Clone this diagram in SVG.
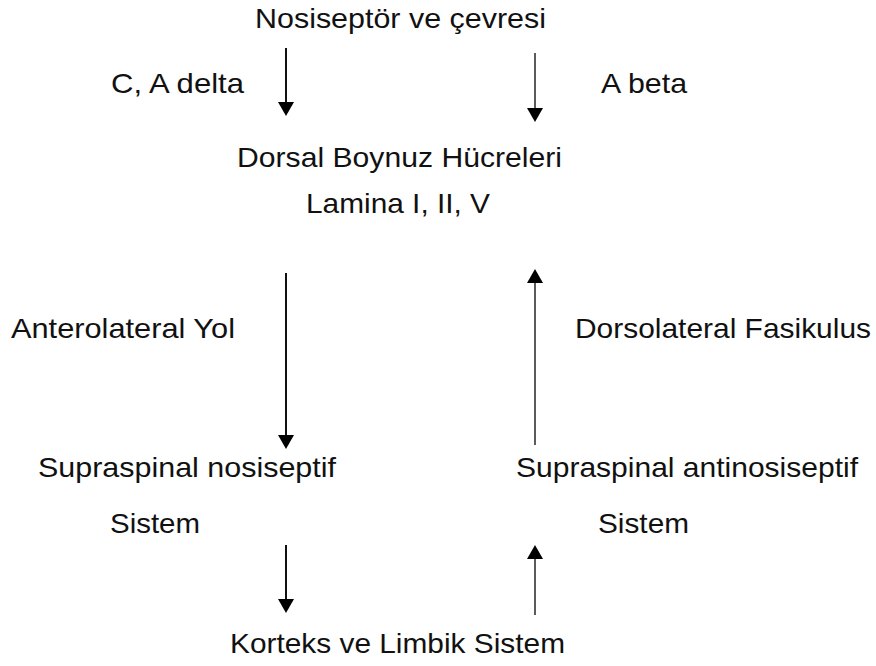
<svg xmlns="http://www.w3.org/2000/svg" width="876" height="666" viewBox="0 0 876 666">
  <style>
    text { font-family: "Liberation Sans", Arial, Helvetica, sans-serif; font-size: 28px; fill: #111; }
    .c { stroke: #111; stroke-width: 2; fill: none; }
    .g { stroke: #333; stroke-width: 1.6; fill: none; }
  </style>
  <defs>
    <marker id="ah" viewBox="0 0 14 16" refX="6" refY="8" markerWidth="14" markerHeight="16" markerUnits="userSpaceOnUse" orient="auto">
      <path d="M0,0 L14,8 L0,16 Z" fill="#000"/>
    </marker>
  </defs>
  <rect width="876" height="666" fill="#fff"/>

  <g id="n-nosiseptor"><text x="255" y="28" textLength="291" lengthAdjust="spacingAndGlyphs">Nosiseptör ve çevresi</text></g>
  <g id="n-cadelta"><text x="111" y="93" textLength="133" lengthAdjust="spacingAndGlyphs">C, A delta</text></g>
  <g id="n-abeta"><text x="601" y="93" textLength="86" lengthAdjust="spacingAndGlyphs">A beta</text></g>
  <g id="n-dorsal">
    <text x="237" y="167" textLength="325" lengthAdjust="spacingAndGlyphs">Dorsal Boynuz Hücreleri</text>
    <text x="306" y="213" textLength="184" lengthAdjust="spacingAndGlyphs">Lamina I, II, V</text>
  </g>
  <g id="n-anterolateral"><text x="11" y="338" textLength="224" lengthAdjust="spacingAndGlyphs">Anterolateral Yol</text></g>
  <g id="n-dorsolateral"><text x="575" y="338" textLength="296" lengthAdjust="spacingAndGlyphs">Dorsolateral Fasikulus</text></g>
  <g id="n-supra-nos">
    <text x="38" y="477" textLength="298" lengthAdjust="spacingAndGlyphs">Supraspinal nosiseptif</text>
    <text x="110" y="533" textLength="90" lengthAdjust="spacingAndGlyphs">Sistem</text>
  </g>
  <g id="n-supra-antinos">
    <text x="516" y="477" textLength="342" lengthAdjust="spacingAndGlyphs">Supraspinal antinosiseptif</text>
    <text x="598" y="533" textLength="91" lengthAdjust="spacingAndGlyphs">Sistem</text>
  </g>
  <g id="n-korteks"><text x="230" y="653" textLength="335" lengthAdjust="spacingAndGlyphs">Korteks ve Limbik Sistem</text></g>

  <g id="connectors">
    <line class="c" x1="286" y1="48" x2="286" y2="108" marker-end="url(#ah)"/>
    <line class="g" x1="535" y1="53" x2="535" y2="114" marker-end="url(#ah)"/>
    <line class="c" x1="286" y1="273" x2="286" y2="441" marker-end="url(#ah)"/>
    <line class="g" x1="535" y1="445" x2="535" y2="277" marker-end="url(#ah)"/>
    <line class="c" x1="286" y1="545" x2="286" y2="605" marker-end="url(#ah)"/>
    <line class="g" x1="535" y1="615" x2="535" y2="553" marker-end="url(#ah)"/>
  </g>
</svg>
